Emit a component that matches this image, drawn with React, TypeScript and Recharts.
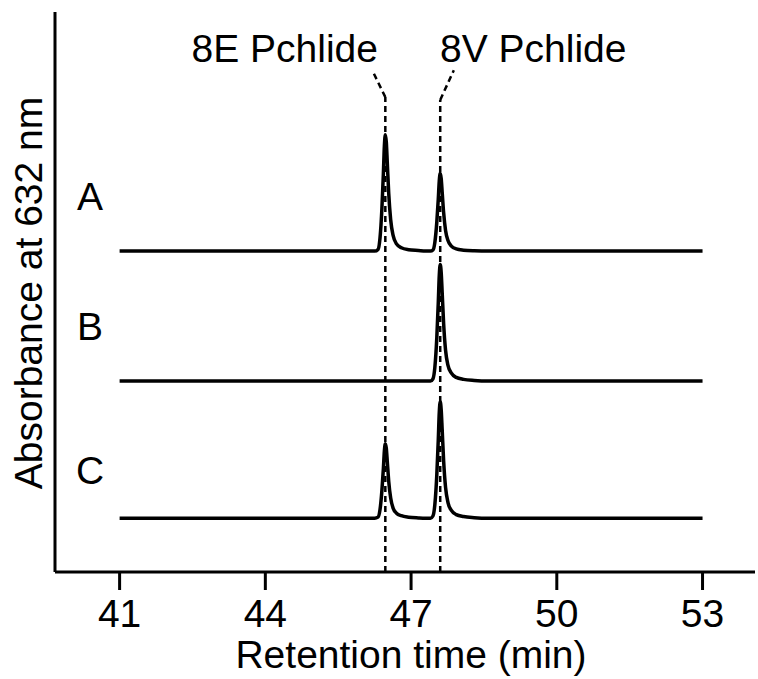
import { LineChart, Line, XAxis, YAxis, ReferenceLine } from 'recharts';

// retention time (min) sampled densely around the two Pchlide peaks
const times = [41, 46.1, 46.25, 46.32, 46.36, 46.4, 46.43, 46.45, 46.47, 46.49, 46.51, 46.54, 46.58, 46.63, 46.7, 46.8, 46.95, 47.15, 47.3, 47.4, 47.45, 47.49, 47.53, 47.56, 47.58, 47.6, 47.62, 47.64, 47.67, 47.71, 47.76, 47.83, 47.93, 48.08, 48.3, 48.6, 53];

// absorbance traces, already stacked (arbitrary units)
const traceA = [57.3, 57.3, 57.3, 57.6, 59.6, 65.0, 71.2, 76.0, 78.1, 76.8, 73.2, 67.6, 62.9, 60.1, 58.6, 57.9, 57.55, 57.4, 57.3, 57.3, 57.5, 58.9, 62.5, 66.6, 69.8, 71.2, 70.3, 67.9, 64.2, 61.0, 59.2, 58.2, 57.7, 57.47, 57.35, 57.3, 57.3];
const traceB = [34.1, 34.1, 34.1, 34.1, 34.1, 34.1, 34.1, 34.1, 34.1, 34.1, 34.1, 34.1, 34.1, 34.1, 34.1, 34.1, 34.1, 34.1, 34.1, 34.1, 34.5, 36.6, 41.9, 48.1, 52.9, 54.9, 53.5, 50.0, 44.4, 39.6, 36.9, 35.5, 34.75, 34.4, 34.2, 34.1, 34.1];
const traceC = [9.6, 9.6, 9.6, 9.8, 11.1, 14.6, 18.5, 21.6, 22.9, 22.1, 19.8, 16.2, 13.2, 11.4, 10.5, 10.05, 9.78, 9.65, 9.6, 9.6, 10.0, 12.1, 17.4, 23.6, 28.4, 30.4, 29.0, 25.5, 19.9, 15.1, 12.4, 11.0, 10.25, 9.9, 9.7, 9.6, 9.6];

const xTicks = [41, 44, 47, 50, 53];
const traceLabels = ['A', 'B', 'C'];

// peak positions and the bent top of each dashed guide
const peak8E = 46.47;
const peak8V = 47.6;
const guideTop = [84.8, 84.3];
const guideBend = [46.2, 47.88];
const bendY = 89.6;

const data = times.map((t, i) => ({ t, A: traceA[i], B: traceB[i], C: traceC[i] }));

const FONT = '"Liberation Sans", Arial, Helvetica, sans-serif';
const INK = '#000';

export default function App() {
  return (
    <div style={{ position: 'relative', width: 758, height: 679, background: '#fff' }}>
      <style>{'body{margin:0}'}</style>
      <LineChart width={758} height={679} data={data} margin={{ top: 12, right: 3, left: 54, bottom: 0 }}>
        <XAxis
          dataKey="t"
          type="number"
          domain={[39.67, 54.08]}
          allowDataOverflow
          ticks={xTicks}
          height={107}
          stroke={INK}
          strokeWidth={3}
          tickSize={18}
          tickMargin={9}
          tick={{ fill: INK, fontSize: 39, fontFamily: FONT }}
        />
        <YAxis
          type="number"
          domain={[0, 100]}
          allowDataOverflow
          width={1}
          tick={false}
          tickLine={false}
          axisLine={{ stroke: INK, strokeWidth: 3 }}
        />
        <Line type="monotone" dataKey="A" stroke={INK} strokeWidth={3.5} dot={false} isAnimationActive={false} />
        <Line type="monotone" dataKey="B" stroke={INK} strokeWidth={3.5} dot={false} isAnimationActive={false} />
        <Line type="monotone" dataKey="C" stroke={INK} strokeWidth={3.5} dot={false} isAnimationActive={false} />
        <ReferenceLine segment={[{ x: peak8E, y: 0 }, { x: peak8E, y: guideTop[0] }]} stroke={INK} strokeWidth={2.5} strokeDasharray="6 4" />
        <ReferenceLine segment={[{ x: peak8E, y: guideTop[0] }, { x: guideBend[0], y: bendY }]} stroke={INK} strokeWidth={2.5} strokeDasharray="6 4" />
        <ReferenceLine segment={[{ x: peak8V, y: 0 }, { x: peak8V, y: guideTop[1] }]} stroke={INK} strokeWidth={2.5} strokeDasharray="6 4" />
        <ReferenceLine segment={[{ x: peak8V, y: guideTop[1] }, { x: guideBend[1], y: bendY }]} stroke={INK} strokeWidth={2.5} strokeDasharray="6 4" />
      </LineChart>

      {/* annotations and axis titles */}
      <svg width={758} height={679} style={{ position: 'absolute', left: 0, top: 0, pointerEvents: 'none' }}>
        <g fontFamily={FONT} fontSize={39} fill={INK}>
          <text x={378} y={62} textAnchor="end">8E Pchlide</text>
          <text x={440} y={62} textAnchor="start">8V Pchlide</text>
          <text x={90} y={210} textAnchor="middle">{traceLabels[0]}</text>
          <text x={90} y={340} textAnchor="middle">{traceLabels[1]}</text>
          <text x={90} y={484} textAnchor="middle">{traceLabels[2]}</text>
          <text x={411} y={668} textAnchor="middle">Retention time (min)</text>
          <text transform="translate(42,293) rotate(-90)" textAnchor="middle">Absorbance at 632 nm</text>
        </g>
      </svg>
    </div>
  );
}
